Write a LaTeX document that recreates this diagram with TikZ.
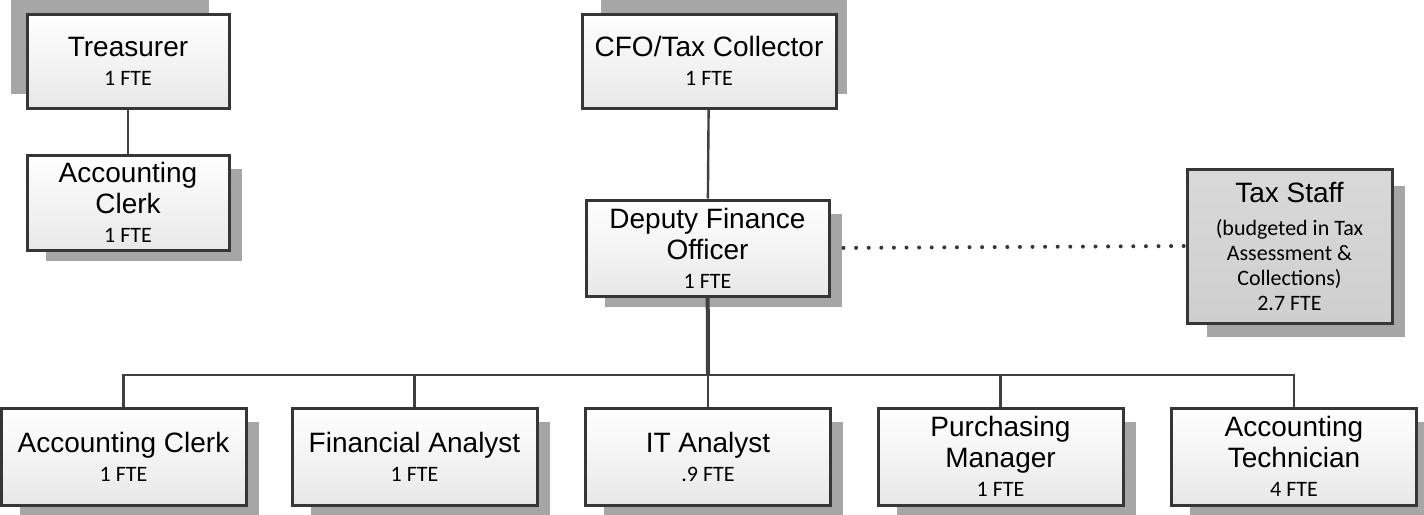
\documentclass[tikz,border=0pt]{standalone}
\usepackage{fontspec}
\setmainfont{Liberation Sans}
\newfontfamily\ftefont{Carlito}
\usetikzlibrary{backgrounds}
\definecolor{boxline}{HTML}{363636}
\definecolor{linkline}{HTML}{404040}
\definecolor{boxfill}{HTML}{E8E8E8}
\definecolor{taxfill}{HTML}{CFCFCF}
\definecolor{shadowgray}{HTML}{A6A6A6}
\newcommand{\fte}[1]{{\ftefont\fontsize{11}{12}\selectfont #1}}
\tikzset{
  orgbox/.style={draw=boxline, line width=1.5pt, top color=white, bottom color=boxfill,
    align=center, inner sep=0pt, font=\fontsize{14}{15.5}\selectfont},
  rowbox/.style={orgbox, minimum width=122.5pt, minimum height=48.5pt},
  link/.style={draw=linkline, line width=1.2pt},
  dotlink/.style={draw=boxline, line width=2pt, line cap=round, dash pattern=on 0pt off 6.3pt},
  shade box/.style={fill=shadowgray}
}
\begin{document}
\begin{tikzpicture}[x=0.5pt, y=-0.5pt]
  \useasboundingbox (0,0) rectangle (1424,514);
  % left branch
  \node[orgbox, minimum width=101pt, minimum height=47pt] (treas) at (128,61)
    {Treasurer\\[-1pt]\fte{1 FTE}};
  \node[orgbox, minimum width=101pt, minimum height=47.5pt] (clerktop) at (128,202.5)
    {Accounting\\Clerk\\[-1pt]\fte{1 FTE}};
  % main branch
  \node[orgbox, minimum width=127pt, minimum height=47pt] (cfo) at (709,61)
    {CFO/Tax Collector\\[-1pt]\fte{1 FTE}};
  \node[orgbox, minimum width=121.5pt, minimum height=48pt] (deputy) at (707.5,248)
    {Deputy Finance\\Officer\\[-1pt]\fte{1 FTE}};
  \node[orgbox, top color=taxfill!80, bottom color=taxfill, minimum width=102.5pt, minimum height=77pt]
    (tax) at (1289.5,246)
    {Tax Staff\\[1pt]\fte{(budgeted in Tax}\\[-3pt]\fte{Assessment \&}\\[-3pt]\fte{Collections)}\\[-3pt]\fte{2.7 FTE}};
  % bottom row
  \node[rowbox] (clerk) at (123.5,456.5) {Accounting Clerk\\[-1pt]\fte{1 FTE}};
  \node[rowbox] (analyst) at (414.5,456.5) {Financial Analyst\\[-1pt]\fte{1 FTE}};
  \node[rowbox] (itan) at (708,456.5) {IT Analyst\\[-1pt]\fte{.9 FTE}};
  \node[rowbox] (purch) at (1000.5,456.5) {Purchasing\\Manager\\[-1pt]\fte{1 FTE}};
  \node[rowbox] (tech) at (1294,456.5) {Accounting\\Technician\\[-1pt]\fte{4 FTE}};
  \coordinate (bus) at (708,375);
  % shadows
  \begin{scope}[on background layer]
    \fill[shade box] ([shift={(-15,-14)}]treas.north west) rectangle ([shift={(-22,-16)}]treas.south east);
    \fill[shade box] ([shift={(20,-14)}]cfo.north west) rectangle ([shift={(9,-16)}]cfo.south east);
    \fill[shade box] ([shift={(21,18)}]tax.north west) rectangle ([shift={(11,12)}]tax.south east);
    \foreach \n in {clerktop,deputy,clerk,analyst,itan,purch,tech}
      \fill[shade box] ([shift={(20,15)}]\n.north west) rectangle ([shift={(11,9)}]\n.south east);
  \end{scope}
  % connectors
  \draw[link] (treas) -- (clerktop);
  \draw[link] (cfo) -- (deputy);
  \draw[link, line width=2pt] (deputy) -- (bus);
  \foreach \n in {clerk,analyst,itan,purch,tech}
    \draw[link] (bus) -| (\n.north);
  \draw[dotlink, shorten <=6.5pt] (deputy.east) -- (tax.west);
\end{tikzpicture}
\end{document}
